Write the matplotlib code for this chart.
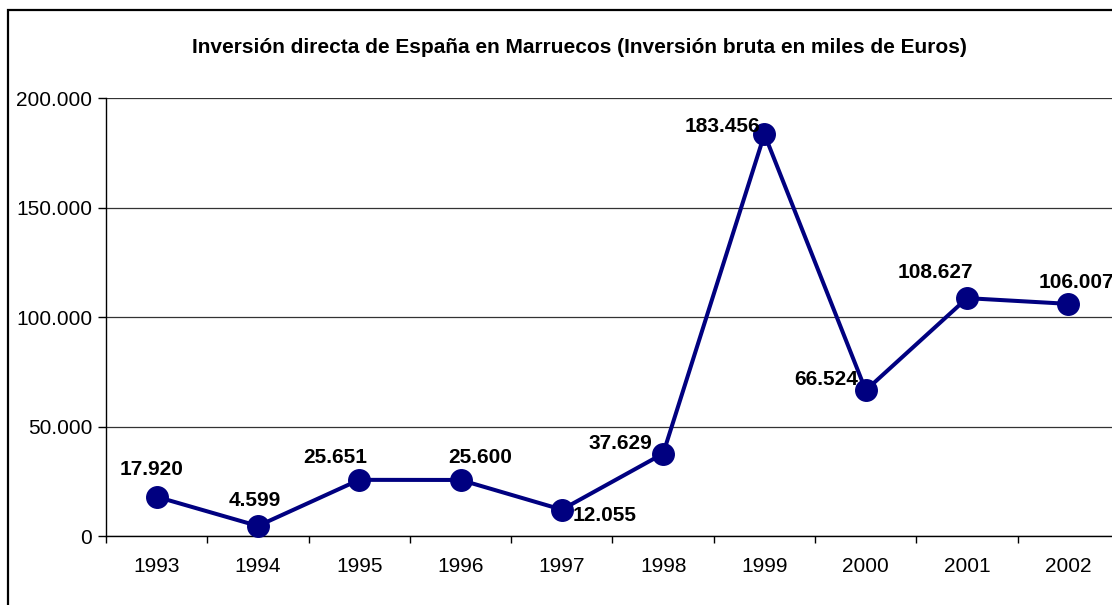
import matplotlib.pyplot as plt
from matplotlib.patches import Rectangle

years = ["1993", "1994", "1995", "1996", "1997", "1998", "1999", "2000", "2001", "2002"]
inversion = [17920, 4599, 25651, 25600, 12055, 37629, 183456, 66524, 108627, 106007]
labels = ["17.920", "4.599", "25.651", "25.600", "12.055", "37.629", "183.456", "66.524", "108.627", "106.007"]
yticks = [0, 50000, 100000, 150000, 200000]
yticklabels = ["0", "50.000", "100.000", "150.000", "200.000"]

# label offsets in pixels (dx, dy) relative to marker
offsets = [(-5, 27), (-3, 25), (-24, 22), (20, 22), (43, -6),
           (-43, 10), (-42, 8), (-40, 11), (-32, 26), (8, 21)]

plt.rcParams['font.family'] = ['Liberation Sans', 'DejaVu Sans']

fig = plt.figure(figsize=(11.12, 6.05), dpi=100)
ax = fig.add_axes([0.0953, 0.114, 0.911, 0.724])

x = list(range(len(years)))
ax.plot(x, inversion, color="#000080", lw=2.9, marker="o", ms=15.5, zorder=3, clip_on=False)

for i, (v, lab) in enumerate(zip(inversion, labels)):
    dx, dy = offsets[i]
    ax.annotate(lab, (i, v), xytext=(dx * 0.72, dy * 0.72), textcoords="offset points",
                ha="center", va="center", fontsize=15, fontweight="bold", zorder=4,
                annotation_clip=False)

ax.set_xlim(-0.5, len(years) - 0.5)
ax.set_ylim(0, 200000)
ax.set_yticks(yticks)
ax.set_yticklabels(yticklabels, fontsize=15)
ax.set_xticks(x)
ax.set_xticklabels(years, fontsize=15)
ax.set_xticks([i + 0.5 for i in range(-1, len(years))], minor=True)
ax.tick_params(axis="x", which="major", length=0, pad=15)
ax.tick_params(axis="x", which="minor", length=5, width=1, direction="out")
ax.tick_params(axis="y", length=6, width=1, pad=4)

ax.grid(axis="y", color="#333333", lw=0.9)
ax.set_axisbelow(True)
for s in ["top", "right"]:
    ax.spines[s].set_visible(False)
ax.spines["left"].set_linewidth(1)
ax.spines["bottom"].set_linewidth(1)

fig.text(0.5207, 0.922, "Inversión directa de España en Marruecos (Inversión bruta en miles de Euros)",
         ha="center", va="center", fontsize=15, fontweight="bold")

fig.patches.append(Rectangle((8 / 1112, -0.1), 1.2, 0.1 + 1 - 10 / 605, transform=fig.transFigure,
                             fill=False, edgecolor="black", lw=1.6))

fig.savefig("out.png", dpi=100)
